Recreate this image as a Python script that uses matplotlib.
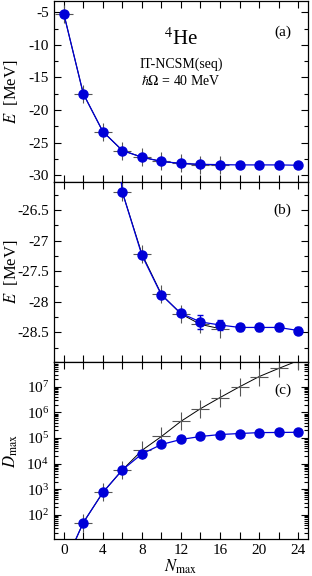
import matplotlib
matplotlib.use("Agg")
import matplotlib.pyplot as plt
from matplotlib.ticker import MultipleLocator, LogLocator, NullFormatter
import numpy as np

plt.rcParams['font.family'] = ['Liberation Serif', 'DejaVu Serif']
plt.rcParams['mathtext.fontset'] = 'stix'
plt.rcParams['axes.unicode_minus'] = False
plt.rcParams['font.size'] = 11

# IT-NCSM(seq) results (blue circles)
nmax = [0, 2, 4, 6, 8, 10, 12, 14, 16, 18, 20, 22, 24]
energy = [-5.2, -17.5, -23.3, -26.21, -27.24, -27.89, -28.19, -28.33, -28.38,
          -28.42, -28.42, -28.42, -28.47]
energy_err = [0, 0, 0, 0, 0, 0, 0, 0.11, 0.08, 0.05, 0.05, 0.06, 0.06]
dim_it = [1, 50, 750, 5700, 24000, 56000, 88000, 115000, 137000, 150000,
          163000, 165000, 168000]

# full NCSM results (black crosses)
nmax_full = [0, 2, 4, 6, 8, 10, 12, 14, 16]
energy_full = [-5.2, -17.5, -23.3, -26.21, -27.22, -27.88, -28.2, -28.37, -28.44]
nmax_dim_full = [0, 2, 4, 6, 8, 10, 12, 14, 16, 18, 20, 22, 24]
dim_full = [1, 50, 750, 5700, 33000, 115000, 450000, 1.4e6, 3.8e6, 1.0e7,
            2.5e7, 5.2e7, 1.05e8]

blue = '#0000d8'
fig = plt.figure(figsize=(3.12, 5.76), dpi=100)
left, width = 0.173, 0.814
ax_a = fig.add_axes([left, 0.6845, width, 0.3135])
ax_b = fig.add_axes([left, 0.372, width, 0.3125])
ax_c = fig.add_axes([left, 0.0634, width, 0.3086])


def cross(ax, x, y, **kw):
    ax.plot(x, y, color='k', lw=0.7, marker='+', ms=13, mew=0.8,
            mec='#555555', zorder=2, **kw)


def blue_pts(ax, x, y, yerr=None):
    ax.errorbar(x, y, yerr=yerr, color=blue, lw=0.9, marker='o', ms=6.5,
                mec=blue, mfc=blue, capsize=2.5, elinewidth=0.9, zorder=3)


for ax in (ax_a, ax_b):
    cross(ax, nmax_full, energy_full)
    blue_pts(ax, nmax, energy, energy_err)

cross(ax_c, nmax_dim_full, dim_full)
blue_pts(ax_c, nmax, dim_it)
ax_c.set_yscale('log')

for ax in (ax_a, ax_b, ax_c):
    ax.set_xlim(-1, 25)
    ax.xaxis.set_major_locator(MultipleLocator(4))
    ax.xaxis.set_minor_locator(MultipleLocator(2))
    ax.tick_params(which='both', direction='in', top=True, right=True,
                   labelsize=11, width=0.8)
    ax.tick_params(which='major', length=5)
    ax.tick_params(which='minor', length=3)
    ax.tick_params(axis='x', which='minor', length=5)
    for s in ax.spines.values():
        s.set_linewidth(0.9)

ax_a.set_ylim(-31, -3.3)
ax_a.yaxis.set_major_locator(MultipleLocator(5))
ax_a.yaxis.set_minor_locator(MultipleLocator(2.5))
ax_a.tick_params(labelbottom=False)

ax_b.set_ylim(-28.98, -26.04)
ax_b.yaxis.set_major_locator(MultipleLocator(0.5))
ax_b.yaxis.set_minor_locator(MultipleLocator(0.25))
ax_b.yaxis.set_major_formatter(plt.FuncFormatter(lambda v, p: '%g' % v))
ax_b.tick_params(labelbottom=False)

ax_c.set_ylim(11, 9.5e7)
ax_c.yaxis.set_major_locator(LogLocator(base=10, numticks=12))
ax_c.yaxis.set_minor_locator(LogLocator(base=10, subs=np.arange(2, 10), numticks=12))
ax_c.yaxis.set_minor_formatter(NullFormatter())
ax_c.set_xticks([0, 4, 8, 12, 16, 20, 24])

ax_a.set_ylabel('$E$  [MeV]', fontsize=12)
ax_b.set_ylabel('$E$  [MeV]', fontsize=12)
ax_c.set_ylabel('$D_{\\mathrm{max}}$', fontsize=12)
ax_c.set_xlabel('$N_{\\mathrm{max}}$', fontsize=12, labelpad=0)
for ax in (ax_a, ax_b, ax_c):
    ax.yaxis.set_label_coords(-0.135, 0.5)

ax_a.text(0.90, 0.83, '(a)', transform=ax_a.transAxes, ha='center', va='center', fontsize=11)
ax_b.text(0.90, 0.84, '(b)', transform=ax_b.transAxes, ha='center', va='center', fontsize=11)
ax_c.text(0.90, 0.84, '(c)', transform=ax_c.transAxes, ha='center', va='center', fontsize=11)

ax_a.text(0.50, 0.79, '$^4$He', transform=ax_a.transAxes, ha='center', va='center', fontsize=15)
ax_a.text(0.50, 0.65, 'IT-NCSM(seq)', transform=ax_a.transAxes, ha='center', va='center', fontsize=10)
ax_a.text(0.50, 0.56, '$\\hbar\\Omega$ = 40 MeV', transform=ax_a.transAxes, ha='center', va='center', fontsize=10)

fig.savefig('out.png', dpi=100)
